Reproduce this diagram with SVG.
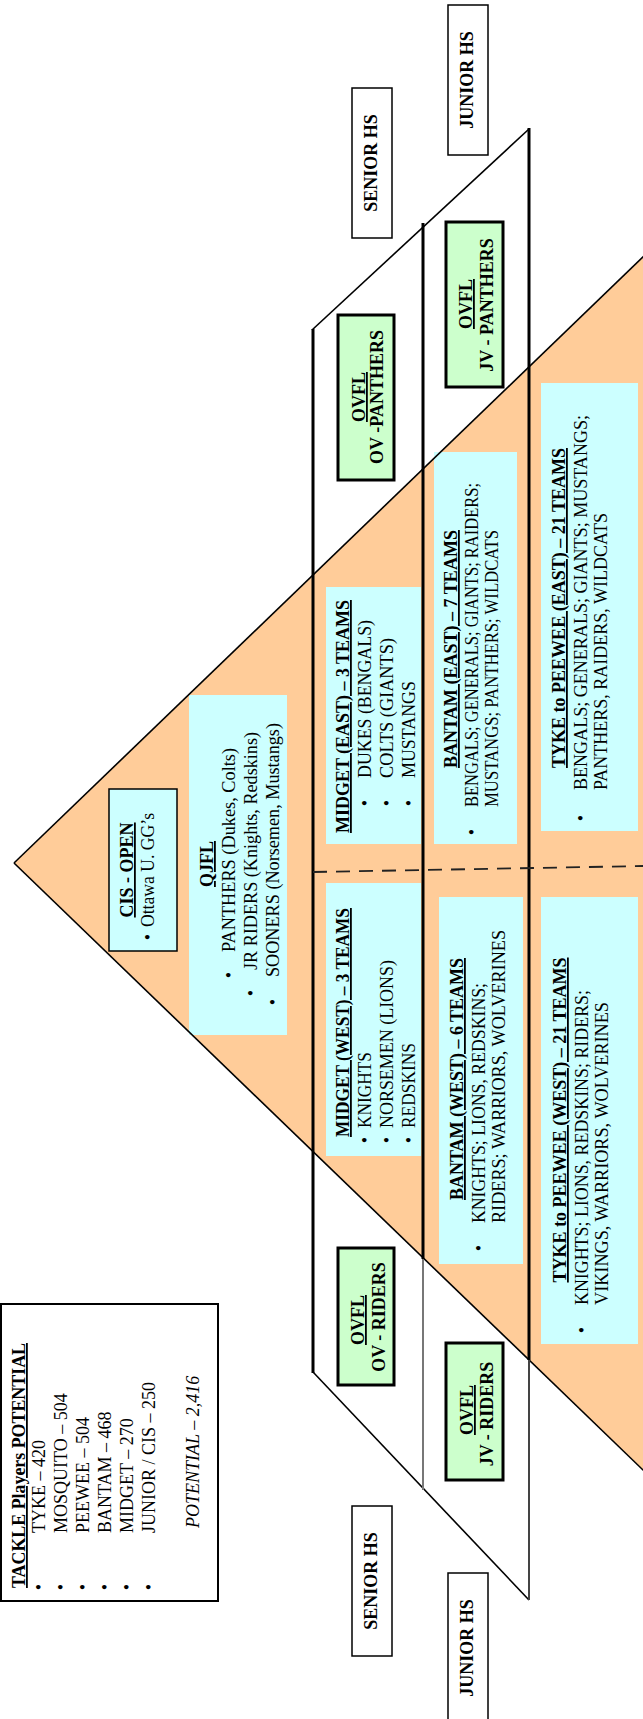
<svg xmlns="http://www.w3.org/2000/svg" width="643" height="1719" viewBox="0 0 643 1719">
<style>
text{font-family:"Liberation Serif","Times New Roman",serif;font-size:18px;fill:#000}
.b{font-weight:bold}
.u{text-decoration:underline}
.c{text-anchor:middle}
.i{font-style:italic}
.cy{fill:#CCFFFF}
.gr{fill:#CCFFCC;stroke:#000;stroke-width:3}
.hs{fill:#fff;stroke:#000;stroke-width:1.5}
.edge{stroke:#000;stroke-width:1.6;fill:none}
.v{stroke:#000;stroke-width:3;fill:none}
</style>
<rect width="643" height="1719" fill="#fff"/>
<g id="pyramid">
<polygon points="14,863 660,240.6 660,1486.4" fill="#FFCC99"/>
</g>
<g id="cis-open">
<rect x="109" y="789" width="68" height="162" class="cy" stroke="#000" stroke-width="1.5"/>
<text class="b u c" transform="translate(133 870) rotate(-90)">CIS - OPEN</text>
<text class="c" transform="translate(154 937) rotate(-90)">•</text>
<text transform="translate(154 927) rotate(-90)" textLength="114" lengthAdjust="spacingAndGlyphs">Ottawa U. GG’s</text>
</g>
<g id="qjfl">
<rect x="189" y="695" width="98" height="340" class="cy"/>
<text class="b u c" transform="translate(213 864) rotate(-90)">QJFL</text>
<text class="c" transform="translate(235 975) rotate(-90)">•</text>
<text transform="translate(235 952) rotate(-90)" textLength="204" lengthAdjust="spacingAndGlyphs">PANTHERS (Dukes, Colts)</text>
<text class="c" transform="translate(257 993) rotate(-90)">•</text>
<text transform="translate(257 970) rotate(-90)" textLength="238" lengthAdjust="spacingAndGlyphs">JR RIDERS (Knights, Redskins)</text>
<text class="c" transform="translate(279 1002) rotate(-90)">•</text>
<text transform="translate(279 977) rotate(-90)" textLength="254" lengthAdjust="spacingAndGlyphs">SOONERS (Norsemen, Mustangs)</text>
</g>
<g id="midget-east">
<rect x="326" y="587" width="95" height="257" class="cy"/>
<text class="b u" transform="translate(349 833) rotate(-90)" textLength="233" lengthAdjust="spacingAndGlyphs">MIDGET (EAST) – 3 TEAMS</text>
<text class="c" transform="translate(371 803) rotate(-90)">•</text>
<text transform="translate(371 778) rotate(-90)" textLength="158" lengthAdjust="spacingAndGlyphs">DUKES (BENGALS)</text>
<text class="c" transform="translate(393 803) rotate(-90)">•</text>
<text transform="translate(393 778) rotate(-90)" textLength="140" lengthAdjust="spacingAndGlyphs">COLTS (GIANTS)</text>
<text class="c" transform="translate(415 803) rotate(-90)">•</text>
<text transform="translate(415 778) rotate(-90)" textLength="97" lengthAdjust="spacingAndGlyphs">MUSTANGS</text>
</g>
<g id="midget-west">
<rect x="326" y="883" width="95" height="273" class="cy"/>
<text class="b u" transform="translate(349 1137) rotate(-90)" textLength="229" lengthAdjust="spacingAndGlyphs">MIDGET (WEST) – 3 TEAMS</text>
<text class="c" transform="translate(371 1140) rotate(-90)">•</text>
<text transform="translate(371 1128) rotate(-90)" textLength="76" lengthAdjust="spacingAndGlyphs">KNIGHTS</text>
<text class="c" transform="translate(393 1140) rotate(-90)">•</text>
<text transform="translate(393 1128) rotate(-90)" textLength="168" lengthAdjust="spacingAndGlyphs">NORSEMEN (LIONS)</text>
<text class="c" transform="translate(415 1140) rotate(-90)">•</text>
<text transform="translate(415 1128) rotate(-90)" textLength="85" lengthAdjust="spacingAndGlyphs">REDSKINS</text>
</g>
<g id="bantam-east">
<rect x="434" y="452" width="83" height="392" class="cy"/>
<text class="b u c" transform="translate(457 649) rotate(-90)" textLength="238" lengthAdjust="spacingAndGlyphs">BANTAM (EAST) – 7 TEAMS</text>
<text class="c" transform="translate(478 832) rotate(-90)">•</text>
<text transform="translate(478 807) rotate(-90)" textLength="324" lengthAdjust="spacingAndGlyphs">BENGALS; GENERALS; GIANTS; RAIDERS;</text>
<text transform="translate(498 807) rotate(-90)" textLength="277" lengthAdjust="spacingAndGlyphs">MUSTANGS; PANTHERS; WILDCATS</text>
</g>
<g id="bantam-west">
<rect x="439" y="897" width="84" height="367" class="cy"/>
<text class="b u c" transform="translate(463 1079) rotate(-90)" textLength="242" lengthAdjust="spacingAndGlyphs">BANTAM (WEST) – 6 TEAMS</text>
<text class="c" transform="translate(485 1248) rotate(-90)">•</text>
<text transform="translate(485 1223) rotate(-90)" textLength="240" lengthAdjust="spacingAndGlyphs">KNIGHTS; LIONS, REDSKINS;</text>
<text transform="translate(505 1223) rotate(-90)" textLength="293" lengthAdjust="spacingAndGlyphs">RIDERS; WARRIORS, WOLVERINES</text>
</g>
<g id="tyke-east">
<rect x="541" y="383" width="97" height="448" class="cy"/>
<text class="b u c" transform="translate(565 608) rotate(-90)" textLength="320" lengthAdjust="spacingAndGlyphs">TYKE to PEEWEE (EAST) – 21 TEAMS</text>
<text class="c" transform="translate(587 818) rotate(-90)">•</text>
<text transform="translate(587 790) rotate(-90)" textLength="375" lengthAdjust="spacingAndGlyphs">BENGALS; GENERALS; GIANTS;  MUSTANGS;</text>
<text transform="translate(607 790) rotate(-90)" textLength="277" lengthAdjust="spacingAndGlyphs">PANTHERS,  RAIDERS,  WILDCATS</text>
</g>
<g id="tyke-west">
<rect x="541" y="897" width="97" height="447" class="cy"/>
<text class="b u c" transform="translate(566 1120) rotate(-90)" textLength="325" lengthAdjust="spacingAndGlyphs">TYKE to PEEWEE (WEST) – 21 TEAMS</text>
<text class="c" transform="translate(588 1330) rotate(-90)">•</text>
<text transform="translate(588 1305) rotate(-90)" textLength="315" lengthAdjust="spacingAndGlyphs">KNIGHTS; LIONS, REDSKINS; RIDERS;</text>
<text transform="translate(608 1305) rotate(-90)" textLength="303" lengthAdjust="spacingAndGlyphs">VIKINGS, WARRIORS, WOLVERINES</text>
</g>
<g id="lines">
<line class="edge" x1="14" y1="863" x2="660" y2="240.6"/>
<line class="edge" x1="14" y1="863" x2="660" y2="1486.4"/>
<line class="edge" x1="312" y1="330" x2="529" y2="129"/>
<line class="edge" x1="313" y1="1372" x2="529" y2="1600"/>
<line class="v" x1="313" y1="329" x2="313" y2="1373"/>
<line class="v" x1="423" y1="223" x2="423" y2="1259"/>
<line x1="423" y1="1259" x2="423" y2="1490" stroke="#777" stroke-width="2"/>
<line class="v" x1="529" y1="128" x2="529" y2="1360"/>
<line x1="529" y1="1360" x2="529" y2="1600" stroke="#444" stroke-width="2"/>
<line x1="313" y1="872" x2="643" y2="866" stroke="#222" stroke-width="1.8" stroke-dasharray="14 9"/>
</g>
<g id="ovfl-ov-panthers">
<rect x="338" y="315" width="56" height="165" class="gr"/>
<text class="b u c" transform="translate(365 397) rotate(-90)">OVFL</text>
<text class="b c" transform="translate(383 397) rotate(-90)">OV -PANTHERS</text>
</g>
<g id="ovfl-jv-panthers">
<rect x="446" y="222" width="57" height="165" class="gr"/>
<text class="b u c" transform="translate(472 304) rotate(-90)">OVFL</text>
<text class="b c" transform="translate(493 305) rotate(-90)">JV - PANTHERS</text>
</g>
<g id="ovfl-ov-riders">
<rect x="338" y="1248" width="56" height="137" class="gr"/>
<text class="b u c" transform="translate(364 1320) rotate(-90)">OVFL</text>
<text class="b c" transform="translate(385 1317) rotate(-90)">OV - RIDERS</text>
</g>
<g id="ovfl-jv-riders">
<rect x="446" y="1343" width="57" height="137" class="gr"/>
<text class="b u c" transform="translate(473 1410) rotate(-90)">OVFL</text>
<text class="b c" transform="translate(493 1414) rotate(-90)">JV - RIDERS</text>
</g>
<g id="senior-hs-top">
<rect x="352" y="88" width="40" height="150" class="hs"/>
<text class="b c" transform="translate(377 163) rotate(-90)">SENIOR HS</text>
</g>
<g id="junior-hs-top">
<rect x="448" y="5" width="40" height="150" class="hs"/>
<text class="b c" transform="translate(473 80) rotate(-90)">JUNIOR HS</text>
</g>
<g id="senior-hs-bottom">
<rect x="352" y="1506" width="40" height="150" class="hs"/>
<text class="b c" transform="translate(377 1581) rotate(-90)">SENIOR HS</text>
</g>
<g id="junior-hs-bottom">
<rect x="448" y="1573" width="40" height="150" class="hs"/>
<text class="b c" transform="translate(473 1648) rotate(-90)">JUNIOR HS</text>
</g>
<g id="legend">
<rect x="1" y="1304" width="217" height="297" fill="#fff" stroke="#000" stroke-width="2"/>
<text class="b u" transform="translate(25 1588) rotate(-90)" textLength="245" lengthAdjust="spacingAndGlyphs">TACKLE Players POTENTIAL</text>
<text class="c" transform="translate(45 1587) rotate(-90)">•</text>
<text transform="translate(45 1533) rotate(-90)">TYKE – 420</text>
<text class="c" transform="translate(67 1587) rotate(-90)">•</text>
<text transform="translate(67 1533) rotate(-90)">MOSQUITO – 504</text>
<text class="c" transform="translate(89 1587) rotate(-90)">•</text>
<text transform="translate(89 1533) rotate(-90)">PEEWEE – 504</text>
<text class="c" transform="translate(111 1587) rotate(-90)">•</text>
<text transform="translate(111 1533) rotate(-90)">BANTAM – 468</text>
<text class="c" transform="translate(133 1587) rotate(-90)">•</text>
<text transform="translate(133 1533) rotate(-90)">MIDGET – 270</text>
<text class="c" transform="translate(155 1587) rotate(-90)">•</text>
<text transform="translate(155 1533) rotate(-90)">JUNIOR / CIS – 250</text>
<text class="i" transform="translate(199 1528) rotate(-90)">POTENTIAL – 2,416</text>
</g>
</svg>
